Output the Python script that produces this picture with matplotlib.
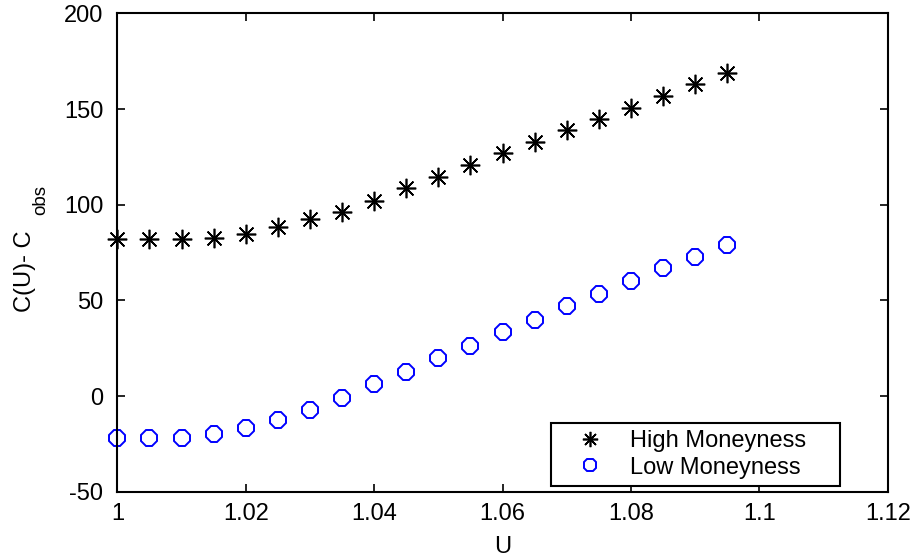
import matplotlib
matplotlib.use("Agg")
import matplotlib.pyplot as plt
from matplotlib.lines import Line2D

plt.rcParams['font.family'] = ['Liberation Sans', 'DejaVu Sans']
plt.rcParams['axes.unicode_minus'] = False

u = [1.000, 1.005, 1.010, 1.015, 1.020, 1.025, 1.030, 1.035, 1.040, 1.045,
     1.050, 1.055, 1.060, 1.065, 1.070, 1.075, 1.080, 1.085, 1.090, 1.095]
high = [81.9, 81.9, 81.9, 82.4, 84.6, 88.3, 92.8, 96.4, 102.2, 108.5,
        114.6, 120.9, 127.0, 132.7, 139.0, 144.8, 150.5, 156.8, 163.0, 168.9]
low = [-21.9, -22.0, -21.7, -19.8, -16.7, -12.3, -7.1, -1.1, 6.1, 12.5,
       19.8, 26.2, 33.3, 39.9, 46.9, 53.4, 60.2, 66.7, 72.9, 79.2]
labels = ['High Moneyness', 'Low Moneyness']

fig = plt.figure(figsize=(9.13, 5.6), dpi=100)
ax = fig.add_axes([0.1285, 0.122, 0.844, 0.854])

star = (8, 2, 0)
ax.plot(u, high, linestyle='none', marker=star, markersize=14,
        markeredgewidth=1.2, color='black', clip_on=False)
ax.plot(u, low, linestyle='none', marker='8', markersize=12,
        markeredgewidth=1.4, markerfacecolor='none', markeredgecolor='#0000ff',
        clip_on=False)

ax.set_xlim(1, 1.12)
ax.set_ylim(-50, 200)
ax.set_xticks([1, 1.02, 1.04, 1.06, 1.08, 1.1, 1.12])
ax.set_xticklabels(['1', '1.02', '1.04', '1.06', '1.08', '1.1', '1.12'])
ax.set_yticks([-50, 0, 50, 100, 150, 200])
ax.tick_params(direction='in', length=6, width=1.2, labelsize=17,
               top=True, right=True)
ax.tick_params(axis='x', pad=8)
ax.tick_params(axis='y', pad=10)
for s in ax.spines.values():
    s.set_linewidth(1.5)

ax.set_xlabel('U', fontsize=17, labelpad=8)
# y label: "C(U)- C" with a separate, smaller "obs" subscript
fig.text(25 / 913, 1 - 271 / 560, 'C(U)- C', rotation=90,
         ha='center', va='center', fontsize=17)
fig.text(41 / 913, 1 - 200 / 560, 'obs', rotation=90,
         ha='center', va='center', fontsize=13.5)

handles = [
    Line2D([], [], linestyle='none', marker=star, markersize=11,
           markeredgewidth=1.2, color='black'),
    Line2D([], [], linestyle='none', marker='8', markersize=10,
           markeredgewidth=1.4, markerfacecolor='none', markeredgecolor='#0000ff'),
]
leg = ax.legend(handles, [s + '    ' for s in labels], loc='lower right',
                bbox_to_anchor=(0.9377, 0.0125), fontsize=17, fancybox=False,
                edgecolor='black', framealpha=1, borderpad=0.3,
                labelspacing=0.2, handletextpad=0.35, handlelength=2.7,
                borderaxespad=0.0)
leg.get_frame().set_linewidth(1.5)

fig.savefig('out.png', dpi=100)
